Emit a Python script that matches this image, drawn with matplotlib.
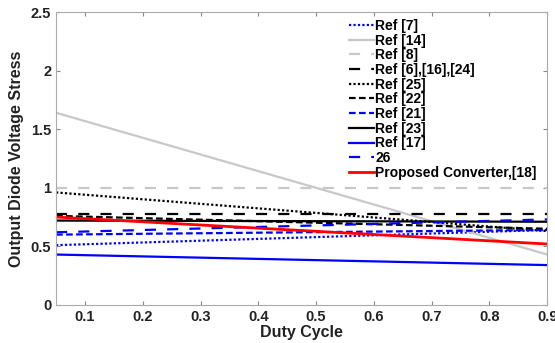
import numpy as np
import matplotlib.pyplot as plt

plt.rcParams['font.family'] = ['Liberation Sans', 'DejaVu Sans']
plt.rcParams['font.weight'] = 'bold'

# duty cycle end points (all curves are straight lines)
duty = [0.05, 0.9]

ref7 = [0.51, 0.64]
ref14 = [1.64, 0.43]
ref8 = [1.0, 1.0]
ref6_16_24 = [0.78, 0.78]
ref25 = [0.96, 0.63]
ref22 = [0.76, 0.65]
ref21 = [0.60, 0.64]
ref23 = [0.72, 0.71]
ref17 = [0.43, 0.34]
ref26 = [0.62, 0.73]
proposed = [0.75, 0.52]

labels = ['Ref [7]', 'Ref [14]', 'Ref [8]', 'Ref [6],[16],[24]', 'Ref [25]', 'Ref [22]',
          'Ref [21]', 'Ref [23]', 'Ref [17]', '26', 'Proposed Converter,[18]']
series = [ref7, ref14, ref8, ref6_16_24, ref25, ref22, ref21, ref23, ref17, ref26, proposed]
colors = ['blue', '#c8c8c8', '#c8c8c8', 'black', 'black', 'black',
          'blue', 'black', 'blue', 'blue', 'red']
styles = [(0, (1, 1)), '-', (0, (5, 5)), (0, (5, 5)), (0, (1, 1)), (0, (3, 1.5)),
          (0, (3, 1.5)), '-', '-', (0, (5, 5)), '-']

fig = plt.figure(figsize=(5.55, 3.43), dpi=100)
ax = fig.add_axes([0.101, 0.111, 0.885, 0.854])

for y, c, ls, lab in zip(series, colors, styles, labels):
    lw = 2.0 if c == 'red' else 1.6
    ax.plot(duty, y, color=c, linestyle=ls, linewidth=lw, label=lab)

ax.set_xlim(0.05, 0.9)
ax.set_ylim(0, 2.5)
ax.set_xticks(np.arange(0.1, 0.91, 0.1))
ax.set_xticklabels(['0.1', '0.2', '0.3', '0.4', '0.5', '0.6', '0.7', '0.8', '0.9'])
ax.set_yticks([0, 0.5, 1, 1.5, 2, 2.5])
ax.set_yticklabels(['0', '0.5', '1', '1.5', '2', '2.5'])
ax.tick_params(direction='in', top=True, right=True, labelsize=10.5, length=3,
               color='#888888', labelcolor='#222222')
for s in ax.spines.values():
    s.set_color('#aaaaaa')
ax.set_xlabel('Duty Cycle', fontsize=11.5, fontweight='bold', labelpad=1, color='#222222')
ax.set_ylabel('Output Diode Voltage Stress', fontsize=11.5, fontweight='bold', labelpad=5,
              color='#222222')

leg = ax.legend(loc='upper right', bbox_to_anchor=(0.995, 1.005), frameon=False, fontsize=10,
                handlelength=1.8, handletextpad=0.1, labelspacing=0.05, borderaxespad=0.2)

fig.savefig('out.png', dpi=100)
